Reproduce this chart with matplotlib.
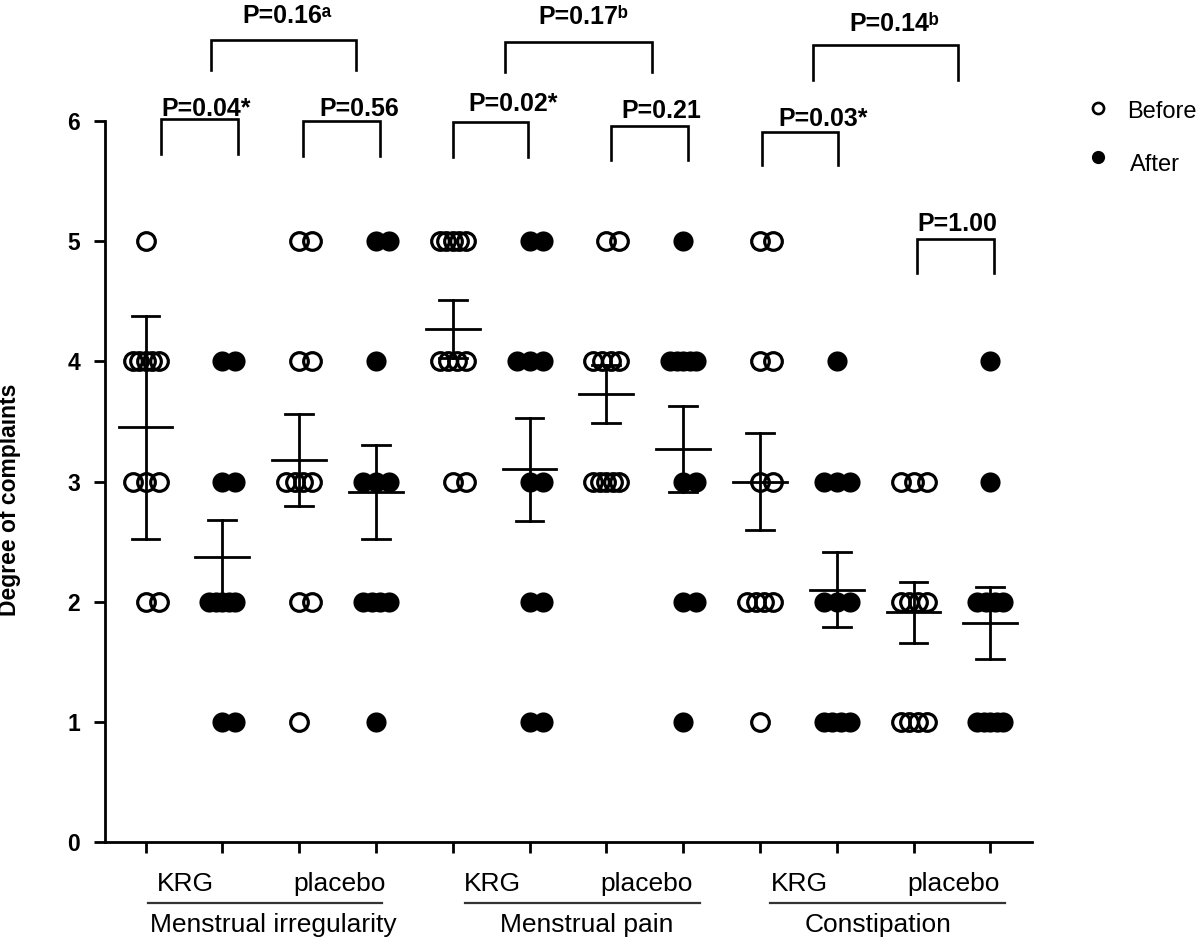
import numpy as np
import matplotlib.pyplot as plt
from matplotlib.lines import Line2D

# puntuaciones individuales (1 = leve ... 5 = grave)
mi_krg_before = [5, 4, 4, 4, 4, 4, 3, 3, 3, 2, 2]
mi_krg_after = [4, 4, 3, 3, 2, 2, 2, 2, 2, 1, 1]
mi_plc_before = [5, 5, 4, 4, 3, 3, 3, 3, 2, 2, 1]
mi_plc_after = [5, 5, 4, 3, 3, 3, 2, 2, 2, 2, 1]
mp_krg_before = [5, 5, 5, 5, 5, 4, 4, 4, 4, 3, 3]
mp_krg_after = [5, 5, 4, 4, 4, 3, 3, 2, 2, 1, 1]
mp_plc_before = [5, 5, 4, 4, 4, 4, 3, 3, 3, 3, 3]
mp_plc_after = [5, 4, 4, 4, 4, 4, 3, 3, 2, 2, 1]
co_krg_before = [5, 5, 4, 4, 3, 3, 2, 2, 2, 2, 1]
co_krg_after = [4, 3, 3, 3, 2, 2, 2, 1, 1, 1, 1]
co_plc_before = [3, 3, 3, 2, 2, 2, 2, 1, 1, 1, 1]
co_plc_after = [4, 3, 2, 2, 2, 2, 1, 1, 1, 1, 1]

groups = [mi_krg_before, mi_krg_after, mi_plc_before, mi_plc_after,
          mp_krg_before, mp_krg_after, mp_plc_before, mp_plc_after,
          co_krg_before, co_krg_after, co_plc_before, co_plc_after]

# media y barra de error (tal como se ven en la figura)
means = [3.45, 2.37, 3.18, 2.91, 4.27, 3.10, 3.73, 3.27, 3.00, 2.10, 1.91, 1.82]
errs = [0.93, 0.31, 0.38, 0.39, 0.24, 0.43, 0.24, 0.36, 0.40, 0.31, 0.25, 0.30]

categories = ["Menstrual irregularity", "Menstrual pain", "Constipation"]
treatments = ["KRG", "placebo"]
p_within = ["P=0.04*", "P=0.56", "P=0.02*", "P=0.21", "P=0.03*", "P=1.00"]
p_between = ["P=0.16\u1d43", "P=0.17\u1d47", "P=0.14\u1d47"]

plt.rcParams["font.family"] = ["Liberation Sans", "DejaVu Sans"]

# conversión píxel -> datos (figura 1200x941)
X0, DX = 145.5, 76.8
Y0, DY = 842.0, 120.17


def px_x(p):
    return 1 + (p - X0) / DX


def px_y(p):
    return (Y0 - p) / DY


STEP = 13 / DX
SPREAD = 26 / DX


def offsets(n):
    if n == 1:
        return [0.0]
    if n == 2:
        return [0.0, STEP]
    if n == 3:
        return [-STEP, 0.0, STEP]
    return list(np.linspace(-SPREAD / 2, SPREAD / 2, n))


fig = plt.figure(figsize=(12, 9.41), dpi=100)
ax = fig.add_axes([105 / 1200, 1 - 842 / 941, (1032 - 105) / 1200, (842 - 121) / 941])
ax.set_xlim(px_x(105), px_x(1032))
ax.set_ylim(0, 6)

for i, vals in enumerate(groups):
    xc = i + 1
    after = i % 2 == 1
    for v in sorted(set(vals), reverse=True):
        n = vals.count(v)
        xs = [xc + o for o in offsets(n)]
        if after:
            ax.plot(xs, [v] * n, "o", color="black", ms=14.5, mew=0, zorder=2)
        else:
            ax.plot(xs, [v] * n, "o", mfc="none", mec="black", ms=12.7, mew=2.3, zorder=2)
    m, e = means[i], errs[i]
    ax.plot([xc - 0.35, xc + 0.35], [m, m], color="black", lw=2, zorder=3)
    ax.plot([xc, xc], [m - e, m + e], color="black", lw=2, zorder=3)
    for yy in (m - e, m + e):
        ax.plot([xc - 0.18, xc + 0.18], [yy, yy], color="black", lw=2, zorder=3)

# ejes
for s in ("top", "right"):
    ax.spines[s].set_visible(False)
for s in ("left", "bottom"):
    ax.spines[s].set_linewidth(2)
ax.set_xticks(range(1, 13))
ax.set_yticks(range(7))
ax.tick_params(axis="both", direction="out", length=8, width=2)
ax.tick_params(axis="x", labelbottom=False)
ax.tick_params(axis="y", labelsize=16.5, pad=10)
for lbl in ax.get_yticklabels():
    lbl.set_fontweight("bold")
ax.text((9.5 - 105) / 927, (842 - 500) / 721, "Degree of complaints", transform=ax.transAxes,
        rotation=90, ha="center", va="center", fontsize=16.5, fontweight="bold")

# etiquetas de grupos bajo el eje
under = [(148, 382), (465, 700), (770, 1005)]
cat_x = [273, 587, 878]
for g in range(3):
    ax.text(px_x(X0 + DX * 4 * g + 40), px_y(884), treatments[0], ha="center", va="center",
            fontsize=19, clip_on=False)
    ax.text(px_x(X0 + DX * (4 * g + 2) + 40), px_y(884), treatments[1], ha="center", va="center",
            fontsize=19, clip_on=False)
    ax.plot([px_x(under[g][0]), px_x(under[g][1])], [px_y(903), px_y(903)], color="#333333",
            lw=1.6, clip_on=False)
    ax.text(px_x(cat_x[g]), px_y(925), categories[g], ha="center", va="center",
            fontsize=19, clip_on=False)

# corchetes con valores P (x1, x2, y, fin de patas, x texto, línea base texto) en píxeles
within_pos = [(161, 238, 119, 154, 206, 115.5), (303, 380, 121, 156, 359, 115.5),
              (453, 528, 122, 157, 513, 110.5), (611, 688, 126, 160, 661, 118),
              (762, 838, 132, 165, 823, 126), (917, 994, 239, 273, 957, 231)]
between_pos = [(211, 356, 40, 70, 287, 23), (505, 652, 42, 72, 583, 24),
               (813, 958, 45, 80, 894, 31)]

for label, (x1, x2, yt, yb, tx, ty) in zip(p_within + p_between, within_pos + between_pos):
    ax.plot([px_x(x1), px_x(x1), px_x(x2), px_x(x2)], [px_y(yb), px_y(yt), px_y(yt), px_y(yb)],
            color="black", lw=1.9, clip_on=False, solid_joinstyle="miter")
    ax.text(px_x(tx), px_y(ty), label, ha="center", va="baseline", fontsize=18,
            fontweight="bold", clip_on=False)

# leyenda manual
fig.add_artist(Line2D([1098 / 1200], [1 - 108 / 941], marker="o", mfc="none", mec="black",
                      ms=8, mew=1.9, transform=fig.transFigure))
fig.add_artist(Line2D([1098 / 1200], [1 - 157 / 941], marker="o", color="black",
                      ms=9.5, mew=0, transform=fig.transFigure))
fig.text(1127 / 1200, 1 - 112 / 941, "Before", ha="left", va="center", fontsize=17)
fig.text(1130 / 1200, 1 - 165 / 941, "After", ha="left", va="center", fontsize=17)

fig.savefig("out.png", dpi=100)
